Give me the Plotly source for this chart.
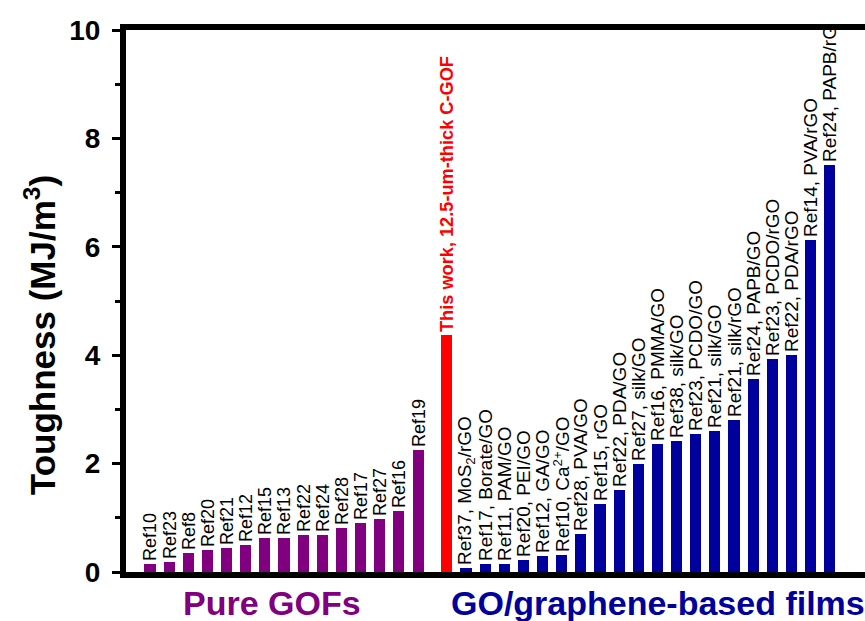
import plotly.graph_objects as go

# Toughness (MJ/m^3) of pure GO fibres
pure_labels = ["Ref10", "Ref23", "Ref8", "Ref20", "Ref21", "Ref12", "Ref15", "Ref13",
               "Ref22", "Ref24", "Ref28", "Ref17", "Ref27", "Ref16", "Ref19"]
pure_values = [0.15, 0.18, 0.35, 0.40, 0.44, 0.49, 0.63, 0.63,
               0.69, 0.69, 0.81, 0.91, 0.97, 1.12, 2.25]

# This work
work_labels = ["This work, 12.5-um-thick C-GOF"]
work_values = [4.37]

# GO / graphene-based films
film_labels = ["Ref37, MoS<sub>2</sub>/rGO", "Ref17, Borate/GO", "Ref11, PAM/GO", "Ref20, PEI/GO",
               "Ref12, GA/GO", "Ref10, Ca<sup>2+</sup>/GO", "Ref28, PVA/GO", "Ref15, rGO",
               "Ref22, PDA/GO", "Ref27, silk/GO", "Ref16, PMMA/GO", "Ref38, silk/GO",
               "Ref23, PCDO/GO", "Ref21, silk/GO", "Ref21, silk/rGO", "Ref24, PAPB/GO",
               "Ref23, PCDO/rGO", "Ref22, PDA/rGO", "Ref14, PVA/rGO", "Ref24, PAPB/rGO"]
film_values = [0.08, 0.14, 0.14, 0.22, 0.30, 0.31, 0.71, 1.25,
               1.51, 2.00, 2.36, 2.41, 2.54, 2.61, 2.80, 3.57,
               3.93, 4.01, 6.12, 7.51]

y_ticks = [0, 2, 4, 6, 8, 10]

PURPLE = "#800080"
RED = "#FF0000"
BLUE = "#00009C"
FONT = "Liberation Sans, Arial, sans-serif"

# bar slots: pure group, a 1.5-slot gap, this work, then the film group
x_pure = [i + 1 for i in range(len(pure_labels))]
x_work = [len(pure_labels) + 1.5]
x_film = [x_work[0] + 1 + i for i in range(len(film_labels))]

bar_w = 0.58

fig = go.Figure()
fig.add_trace(go.Bar(x=x_pure, y=pure_values, text=pure_labels, width=bar_w,
                     marker=dict(color=PURPLE, line=dict(width=0)),
                     textposition="outside", textangle=-90, constraintext="none",
                     textfont=dict(family=FONT, size=18, color="black"),
                     cliponaxis=True))
fig.add_trace(go.Bar(x=x_work, y=work_values, text=work_labels, width=bar_w,
                     marker=dict(color=RED, line=dict(width=0)),
                     textposition="outside", textangle=-90, constraintext="none",
                     textfont=dict(family=FONT, size=18.2, color=RED, weight="bold"),
                     cliponaxis=True))
fig.add_trace(go.Bar(x=x_film, y=film_values, text=film_labels, width=bar_w,
                     marker=dict(color=BLUE, line=dict(width=0)),
                     textposition="outside", textangle=-90, constraintext="none",
                     textfont=dict(family=FONT, size=19, color="black"),
                     cliponaxis=True))

fig.update_layout(
    width=865, height=621,
    margin=dict(l=126, r=0, t=30, b=49),
    paper_bgcolor="white", plot_bgcolor="white",
    showlegend=False, bargap=0,
    xaxis=dict(range=[-0.253, 38.34], showgrid=False, zeroline=False,
               showticklabels=False, ticks="",
               showline=True, linecolor="black", linewidth=6, mirror=True),
    yaxis=dict(range=[0, 10], tickvals=y_ticks, showgrid=False, zeroline=False,
               showline=True, linecolor="black", linewidth=6,
               ticks="outside", ticklen=8, tickwidth=3, tickcolor="black",
               ticklabelstandoff=6,
               tickfont=dict(family=FONT, size=28, color="black", weight="bold"),
               minor=dict(dtick=1, ticks="outside", ticklen=5, tickwidth=3,
                          tickcolor="black", showgrid=False)),
    annotations=[
        dict(text="<b>Toughness (MJ/m<sup>3</sup>)</b>", textangle=-90,
             xref="paper", yref="paper", x=-0.1164, y=0.437,
             xanchor="center", yanchor="middle", showarrow=False,
             font=dict(family=FONT, size=35, color="black")),
        dict(text="<b>Pure GOFs</b>", xref="paper", yref="paper",
             x=0.1976, y=-0.0572, xanchor="center", yanchor="middle",
             showarrow=False, font=dict(family=FONT, size=34, color=PURPLE)),
        dict(text="<b>GO/graphene-based films</b>", xref="paper", yref="paper",
             x=0.72, y=-0.0572, xanchor="center", yanchor="middle",
             showarrow=False, font=dict(family=FONT, size=34, color=BLUE)),
    ],
)

fig.write_html("out.html")
